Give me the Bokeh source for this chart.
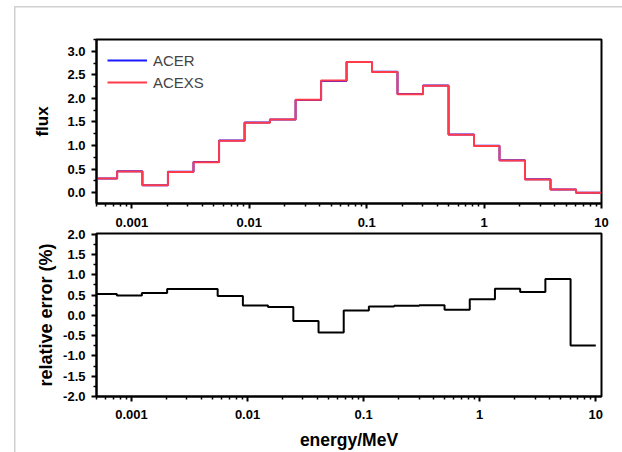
from bokeh.plotting import figure
from bokeh.models import (FixedTicker, CustomJSTickFormatter, PrintfTickFormatter,
                          Range1d, LogScale, LogAxis, Legend, LegendItem)
from bokeh.layouts import column
from bokeh.embed import file_html
from bokeh.resources import INLINE

# ---------------- data ----------------
bin_edges = [0.000454, 0.000749, 0.00123, 0.00203, 0.00335, 0.00553, 0.00912,
             0.0150, 0.0248, 0.0409, 0.0674, 0.111, 0.183, 0.302, 0.498,
             0.821, 1.353, 2.231, 3.679, 6.065, 10.0]
flux_acer = [0.301, 0.452, 0.156, 0.443, 0.649, 1.105, 1.489, 1.553, 1.967,
             2.370, 2.773, 2.566, 2.095, 2.276, 1.232, 0.994, 0.690, 0.282,
             0.066, 0.000]
flux_acexs = [0.300, 0.450, 0.155, 0.440, 0.645, 1.100, 1.485, 1.550, 1.970,
              2.380, 2.770, 2.560, 2.090, 2.270, 1.230, 0.990, 0.685, 0.280,
              0.065, 0.000]
rel_error = [0.53, 0.49, 0.55, 0.65, 0.65, 0.48, 0.245, 0.205, -0.14, -0.42,
             0.12, 0.22, 0.24, 0.25, 0.14, 0.40, 0.66, 0.58, 0.90, -0.745]
x_tick_values = [0.001, 0.01, 0.1, 1, 10]
flux_tick_values = [0.0, 0.5, 1.0, 1.5, 2.0, 2.5, 3.0]
err_tick_values = [-2.0, -1.5, -1.0, -0.5, 0.0, 0.5, 1.0, 1.5, 2.0]

FONT = "Liberation Sans"
BLUE = "#1a1aff"
RED = "#ff3b4a"
TICK_FS = "13px"

x_minor = [m * 10.0 ** e for e in range(-4, 1) for m in range(2, 10)]
flux_minor = [v + 0.25 for v in [-0.5] + flux_tick_values]
err_minor = [v + 0.25 for v in err_tick_values[:-1]]


def style(p):
    p.background_fill_color = "white"
    p.border_fill_alpha = 0
    p.outline_line_color = "black"
    p.outline_line_width = 2
    p.xgrid.visible = False
    p.ygrid.visible = False
    for ax in list(p.xaxis) + list(p.yaxis):
        ax.axis_line_width = 2
        ax.axis_line_color = "black"
        ax.major_tick_line_width = 2
        ax.minor_tick_line_width = 1.5
        ax.major_tick_out = 5
        ax.major_tick_in = 0
        ax.minor_tick_out = 3
        ax.minor_tick_in = 0
        ax.major_label_text_font = FONT
        ax.major_label_text_font_style = "bold"
        ax.major_label_text_font_size = TICK_FS
        ax.major_label_text_color = "black"
        ax.axis_label_text_font = FONT
        ax.axis_label_text_font_style = "bold"
        ax.axis_label_text_color = "black"


# ---------------- top: flux ----------------
p1 = figure(width=622, height=209, x_axis_type="log",
            x_range=Range1d(0.0005, 10), y_range=Range1d(-0.23, 3.25),
            output_backend="svg", toolbar_location=None,
            min_border_left=96, min_border_right=21,
            min_border_top=39, min_border_bottom=6)
style(p1)
r_acer = p1.step(x=bin_edges, y=flux_acer + [flux_acer[-1]], mode="after",
                 line_color=BLUE, line_width=2)
r_acexs = p1.step(x=bin_edges, y=flux_acexs + [flux_acexs[-1]], mode="after",
                  line_color=RED, line_width=2)
p1.xaxis.ticker = FixedTicker(ticks=x_tick_values, minor_ticks=x_minor)
p1.xaxis.major_label_text_font_size = "1px"
p1.xaxis.major_label_text_alpha = 0
p1.xaxis.major_label_standoff = 0
p1.yaxis.ticker = FixedTicker(ticks=flux_tick_values, minor_ticks=flux_minor)
p1.yaxis.formatter = PrintfTickFormatter(format="%.1f")
p1.yaxis.major_label_standoff = 6
p1.yaxis.axis_label = "flux"
p1.yaxis.axis_label_text_font_size = "17px"
p1.yaxis.axis_label_standoff = 12

legend = Legend(items=[LegendItem(label="ACER", renderers=[r_acer]),
                       LegendItem(label="ACEXS", renderers=[r_acexs])],
                location="top_left", margin=11, padding=0, spacing=2,
                glyph_width=40, glyph_height=20, label_height=20,
                label_standoff=6, border_line_color=None,
                background_fill_alpha=0,
                label_text_font=FONT, label_text_font_size="15px")
p1.add_layout(legend)

# ---------------- bottom: relative error ----------------
p2 = figure(width=622, height=243, x_axis_type="log",
            x_range=Range1d(0.0005, 11.2), y_range=Range1d(-2.0, 2.02),
            output_backend="svg", toolbar_location=None,
            min_border_left=96, min_border_right=21,
            min_border_top=24, min_border_bottom=55)
p2.extra_x_ranges = {"upper": Range1d(0.0005, 10)}
p2.extra_x_scales = {"upper": LogScale()}
top_labels = LogAxis(x_range_name="upper",
                     ticker=FixedTicker(ticks=x_tick_values),
                     formatter=CustomJSTickFormatter(code="return tick.toString();"))
p2.add_layout(top_labels, "above")
style(p2)
top_labels.axis_line_color = None
top_labels.major_tick_out = 0
top_labels.minor_tick_out = 0
top_labels.major_tick_line_color = None
top_labels.minor_tick_line_color = None
top_labels.major_label_standoff = 7

p2.step(x=bin_edges, y=rel_error + [rel_error[-1]], mode="after",
        line_color="black", line_width=2)
p2.below[0].ticker = FixedTicker(ticks=x_tick_values, minor_ticks=x_minor)
p2.below[0].formatter = CustomJSTickFormatter(code="return tick.toString();")
p2.below[0].major_label_standoff = 8
p2.below[0].axis_label = "energy/MeV"
p2.below[0].axis_label_text_font_size = "17.5px"
p2.below[0].axis_label_standoff = 8
p2.yaxis.ticker = FixedTicker(ticks=err_tick_values, minor_ticks=err_minor)
p2.yaxis.formatter = PrintfTickFormatter(format="%.1f")
p2.yaxis.major_label_standoff = 6
p2.yaxis.axis_label = "relative error (%)"
p2.yaxis.axis_label_text_font_size = "18px"
p2.yaxis.axis_label_standoff = 4

page_bg = ("linear-gradient(#cfcfcf, #cfcfcf) 14px 6px / 1.5px 100% no-repeat, "
           "linear-gradient(#cfcfcf, #cfcfcf) 14px 6px / 100% 1.5px no-repeat, white")
layout = column(p1, p2, spacing=0, styles={"background": page_bg})
open("out.html", "w").write(file_html(layout, INLINE))
